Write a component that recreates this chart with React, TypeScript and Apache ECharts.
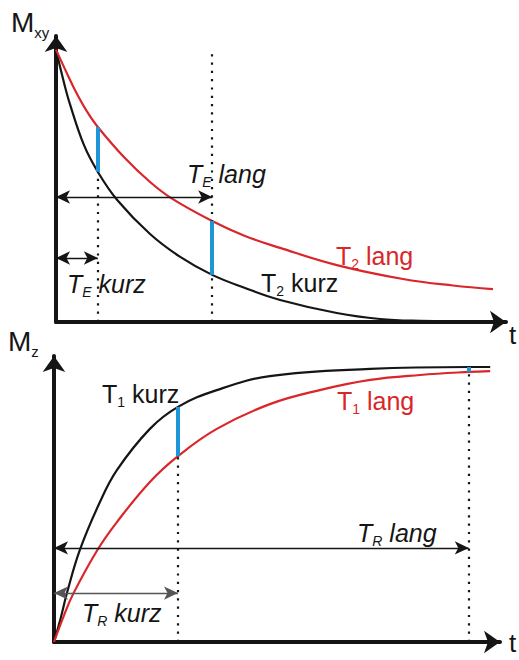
import React, { useEffect, useRef } from 'react';
import * as echarts from 'echarts';

const FONT = '"Liberation Sans", Arial, Helvetica, sans-serif';
const INK = '#151515';
const RED = '#d9262a';
const BLUE = '#1d95d8';

// Transverse magnetisation Mxy (relative) over time, top panel
const T2_KURZ: [number, number][] = [
  [0, 1.0], [1.6, 0.89], [3.1, 0.8], [6.2, 0.65], [9.3, 0.551], [13.6, 0.448],
  [20.9, 0.323], [27.6, 0.239], [34.7, 0.173], [42, 0.125], [49.8, 0.081],
  [62.4, 0.033], [72, 0.011], [80.9, 0.004], [96.4, 0],
];
const T2_LANG: [number, number][] = [
  [0, 1.0], [2.2, 0.921], [4.2, 0.852], [6.7, 0.778], [9.3, 0.716], [15.3, 0.602],
  [20.9, 0.514], [25.6, 0.455], [34.7, 0.371], [42, 0.316], [49.8, 0.272],
  [62.4, 0.209], [77.1, 0.158], [88.2, 0.134], [97.1, 0.121],
];

// Longitudinal magnetisation Mz (relative) over time, bottom panel
const T1_KURZ: [number, number][] = [
  [0, 0], [1.6, 0.093], [2.9, 0.178], [5.8, 0.335], [10.3, 0.509], [14.1, 0.625],
  [21.5, 0.775], [27.8, 0.855], [36.5, 0.916], [48.4, 0.967], [70.9, 0.993],
  [93.0, 1.0], [97.8, 1.0],
];
const T1_LANG: [number, number][] = [
  [0, 0], [2.2, 0.095], [4.3, 0.175], [9.6, 0.331], [14.1, 0.436], [21.5, 0.582],
  [27.8, 0.676], [36.5, 0.775], [48.4, 0.865], [59.6, 0.916], [70.9, 0.953],
  [82.1, 0.971], [93.0, 0.982], [97.8, 0.985],
];

// Echo times and repetition times (same time units as the curves)
const TE_KURZ = 9.3;
const TE_LANG = 34.7;
const TR_KURZ = 27.8;
const TR_LANG = 93.0;

// Heights at which the interval arrows are drawn
const TE_LANG_ARROW = 0.459;
const TE_KURZ_ARROW = 0.235;
const TR_LANG_ARROW = 0.342;
const TR_KURZ_ARROW = 0.178;
const TE_LANG_GUIDE_TOP = 0.988;

const valueAt = (curve: [number, number][], t: number) => {
  const p = curve.find((d) => d[0] === t);
  return p ? p[1] : 0;
};

const dotted = (t: number, top: number) => [
  { coord: [t, 0], symbol: 'none', lineStyle: { color: INK, width: 2.2, type: [2.2, 6.1] } },
  { coord: [t, top], symbol: 'none' },
];
const blue = (t: number, lo: number, hi: number) => [
  { coord: [t, lo], symbol: 'none', lineStyle: { color: BLUE, width: 4, type: 'solid' } },
  { coord: [t, hi], symbol: 'none' },
];
const arrow = (t: number, level: number, color: string) => [
  { coord: [0, level], symbol: 'arrow', symbolSize: [10, 14], lineStyle: { color, width: 1.4, type: 'solid' } },
  { coord: [t, level], symbol: 'arrow', symbolSize: [10, 14] },
];

const axisCommon = {
  axisTick: { show: false },
  axisLabel: { show: false },
  splitLine: { show: false },
  axisLine: {
    show: true,
    symbol: ['none', 'arrow'],
    symbolSize: [17, 16],
    lineStyle: { color: INK, width: 4 },
  },
};

const curve = (data: [number, number][], color: string, axis: number) => ({
  type: 'line',
  xAxisIndex: axis,
  yAxisIndex: axis,
  data,
  smooth: 0.4,
  showSymbol: false,
  silent: true,
  lineStyle: { color, width: 2.2 },
  z: 2,
});

const marks = (axis: number, data: any[]) => ({
  type: 'line',
  xAxisIndex: axis,
  yAxisIndex: axis,
  data: [],
  silent: true,
  z: 4,
  markLine: {
    silent: true,
    animation: false,
    label: { show: false },
    emphasis: { disabled: true },
    data,
  },
});

const label = (
  x: number,
  baseline: number,
  main: string,
  sub: string,
  rest: string,
  color: string,
  italic: boolean,
  size = 25,
  subSize = 14,
) => ({
  type: 'text',
  x,
  y: baseline - size * 0.96,
  silent: true,
  style: {
    text: `{m|${main}}` + (sub ? `{s|${sub}}` : '') + (rest ? `{m|${rest}}` : ''),
    fill: color,
    align: 'left',
    verticalAlign: 'top',
    rich: {
      m: {
        fontSize: size,
        fontFamily: FONT,
        fontStyle: italic ? 'italic' : 'normal',
        lineHeight: size * 1.2,
        fill: color,
      },
      s: {
        fontSize: subSize,
        fontFamily: FONT,
        fontStyle: italic ? 'italic' : 'normal',
        lineHeight: 12,
        verticalAlign: 'bottom',
        fill: color,
      },
    },
  },
});

// Axis name "t" at the tip of a time axis
const axisName = (x: number, bottom: number) => ({
  type: 'text',
  x,
  y: bottom,
  silent: true,
  style: {
    text: 't',
    fill: INK,
    font: `26px ${FONT}`,
    align: 'left',
    verticalAlign: 'bottom',
  },
});

export default function App() {
  const ref = useRef<HTMLDivElement>(null);

  useEffect(() => {
    if (!ref.current) return;
    const chart = echarts.init(ref.current, null, { renderer: 'svg' });

    const option: any = {
      animation: false,
      backgroundColor: '#ffffff',
      grid: [
        { left: 56, top: 36, width: 450, height: 286 },
        { left: 54, top: 356, width: 446, height: 286 },
      ],
      xAxis: [
        { gridIndex: 0, type: 'value', min: 0, max: 100, ...axisCommon },
        { gridIndex: 1, type: 'value', min: 0, max: 100, ...axisCommon },
      ],
      yAxis: [
        { gridIndex: 0, type: 'value', min: 0, max: 1.05, ...axisCommon },
        { gridIndex: 1, type: 'value', min: 0, max: 1.04, ...axisCommon },
      ],
      series: [
        marks(0, [
          dotted(TE_KURZ, valueAt(T2_KURZ, TE_KURZ)),
          dotted(TE_LANG, TE_LANG_GUIDE_TOP),
          arrow(TE_LANG, TE_LANG_ARROW, INK),
          arrow(TE_KURZ, TE_KURZ_ARROW, INK),
        ]),
        curve(T2_KURZ, INK, 0),
        curve(T2_LANG, RED, 0),
        {
          ...marks(0, [
            blue(TE_KURZ, valueAt(T2_KURZ, TE_KURZ), valueAt(T2_LANG, TE_KURZ)),
            blue(TE_LANG, valueAt(T2_KURZ, TE_LANG), valueAt(T2_LANG, TE_LANG)),
          ]),
          z: 5,
        },
        marks(1, [
          dotted(TR_KURZ, valueAt(T1_LANG, TR_KURZ)),
          dotted(TR_LANG, valueAt(T1_LANG, TR_LANG)),
          arrow(TR_LANG, TR_LANG_ARROW, INK),
          arrow(TR_KURZ, TR_KURZ_ARROW, '#555555'),
        ]),
        curve(T1_KURZ, INK, 1),
        curve(T1_LANG, RED, 1),
        {
          ...marks(1, [
            blue(TR_KURZ, valueAt(T1_LANG, TR_KURZ), valueAt(T1_KURZ, TR_KURZ)),
            blue(TR_LANG, valueAt(T1_LANG, TR_LANG), valueAt(T1_KURZ, TR_LANG)),
          ]),
          z: 5,
        },
      ],
      graphic: [
        label(11, 33, 'M', 'xy', '', INK, false, 28, 15),
        axisName(509, 348),
        label(187, 183, 'T', 'E', ' lang', INK, true),
        label(67, 293, 'T', 'E', ' kurz', INK, true),
        label(336, 265, 'T', '2', ' lang', RED, false),
        label(261, 292, 'T', '2', ' kurz', INK, false),
        label(8, 352, 'M', 'z', '', INK, false, 28, 15),
        axisName(509, 656),
        label(102, 403, 'T', '1', ' kurz', INK, false),
        label(337, 410, 'T', '1', ' lang', RED, false),
        label(357, 542, 'T', 'R', ' lang', INK, true),
        label(82, 622, 'T', 'R', ' kurz', INK, true),
      ],
    };

    chart.setOption(option);
    return () => chart.dispose();
  }, []);

  return (
    <div
      ref={ref}
      style={{ position: 'fixed', left: 0, top: 0, width: 519, height: 660, background: '#ffffff' }}
    />
  );
}
